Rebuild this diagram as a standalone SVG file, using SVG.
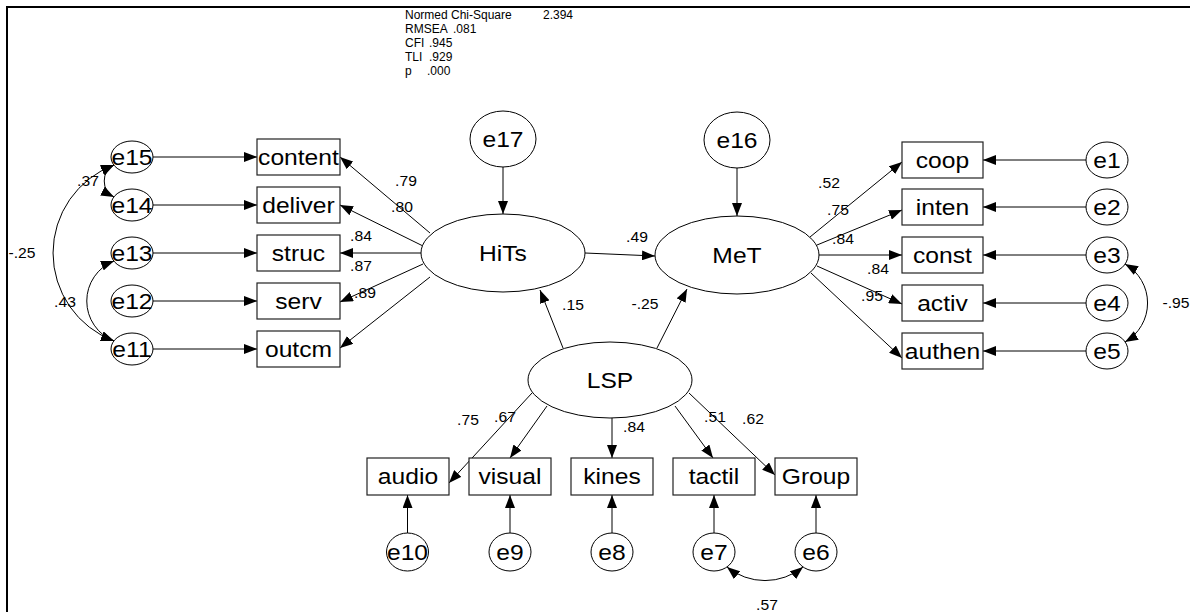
<svg xmlns="http://www.w3.org/2000/svg" width="1190" height="612" viewBox="0 0 1190 612">
<style>
  .box { fill: #fff; stroke: #222; stroke-width: 1.2; }
  .ell { fill: #fff; stroke: #000; stroke-width: 1; }
  .lbl { font-family: "Liberation Sans", Arial, sans-serif; font-size: 22px; text-anchor: middle; fill: #000; transform-box: fill-box; transform-origin: center; transform: scaleX(1.12); }
  .coef { font-family: "Liberation Sans", Arial, sans-serif; font-size: 14px; text-anchor: middle; fill: #000; transform-box: fill-box; transform-origin: center; transform: scaleX(1.12); }
  .stat { font-family: "Liberation Sans", Arial, sans-serif; font-size: 12px; fill: #000; }
  .c line, .c path { stroke: #000; stroke-width: 1; fill: none; }
  .c .one { marker-end: url(#ah); }
  .c .two { marker-end: url(#ah); marker-start: url(#ahs); }
</style>
<defs>
  <marker id="ah" markerUnits="userSpaceOnUse" markerWidth="13" markerHeight="10" viewBox="0 0 13 10" refX="13" refY="5" orient="auto">
    <path d="M0,0 L13,5 L0,10 z" fill="#000"/>
  </marker>
  <marker id="ahs" markerUnits="userSpaceOnUse" markerWidth="13" markerHeight="10" viewBox="0 0 13 10" refX="13" refY="5" orient="auto-start-reverse">
    <path d="M0,0 L13,5 L0,10 z" fill="#000"/>
  </marker>
</defs>
<path d="M7,612 L7,7 L1190,7" fill="none" stroke="#000" stroke-width="2"/>
<g id="fit-stats">
  <text class="stat" x="405" y="19">Normed Chi-Square<tspan x="543">2.394</tspan></text>
  <text class="stat" x="405" y="33">RMSEA<tspan x="453">.081</tspan></text>
  <text class="stat" x="405" y="47">CFI<tspan x="429">.945</tspan></text>
  <text class="stat" x="405" y="61">TLI<tspan x="429">.929</tspan></text>
  <text class="stat" x="405" y="75">p<tspan x="427">.000</tspan></text>
</g>
<g class="c" id="connectors">
  <line class="one" x1="153" y1="157" x2="257" y2="157"/>
  <line class="one" x1="153" y1="205" x2="257" y2="205"/>
  <line class="one" x1="153" y1="253" x2="257" y2="253"/>
  <line class="one" x1="153" y1="301" x2="257" y2="301"/>
  <line class="one" x1="153" y1="349" x2="257" y2="349"/>
  <line class="one" x1="430" y1="233" x2="340" y2="157"/>
  <line class="one" x1="423" y1="246" x2="340" y2="205"/>
  <line class="one" x1="421" y1="253" x2="340" y2="253"/>
  <line class="one" x1="423" y1="264" x2="340" y2="302"/>
  <line class="one" x1="430" y1="277" x2="340" y2="348"/>
  <line class="one" x1="503" y1="167" x2="503" y2="214"/>
  <line class="one" x1="737" y1="168" x2="737" y2="216"/>
  <line class="one" x1="585" y1="253" x2="655" y2="256"/>
  <line class="one" x1="563" y1="348" x2="540" y2="290"/>
  <line class="one" x1="657" y1="348" x2="687" y2="289"/>
  <line class="one" x1="810" y1="237" x2="902" y2="162"/>
  <line class="one" x1="817" y1="245" x2="902" y2="210"/>
  <line class="one" x1="819" y1="255" x2="902" y2="255"/>
  <line class="one" x1="817" y1="266" x2="902" y2="304"/>
  <line class="one" x1="811" y1="273" x2="902" y2="358"/>
  <line class="one" x1="1086" y1="160" x2="983" y2="160"/>
  <line class="one" x1="1086" y1="207" x2="983" y2="207"/>
  <line class="one" x1="1086" y1="255" x2="983" y2="255"/>
  <line class="one" x1="1086" y1="303" x2="983" y2="303"/>
  <line class="one" x1="1086" y1="351" x2="983" y2="351"/>
  <line class="one" x1="532" y1="393" x2="449" y2="483"/>
  <line class="one" x1="547" y1="406" x2="510" y2="458"/>
  <line class="one" x1="612" y1="418" x2="612" y2="458"/>
  <line class="one" x1="675" y1="406" x2="713" y2="458"/>
  <line class="one" x1="689" y1="393" x2="775" y2="475"/>
  <line class="one" x1="407.5" y1="533" x2="407.5" y2="495"/>
  <line class="one" x1="510" y1="533" x2="510" y2="495"/>
  <line class="one" x1="612" y1="533" x2="612" y2="495"/>
  <line class="one" x1="714" y1="533" x2="714" y2="495"/>
  <line class="one" x1="816" y1="533" x2="816" y2="495"/>
  <path class="two" d="M114,165 A18,18 0 0 0 114,197"/>
  <path class="two" d="M114,165 A94,94 0 0 0 114,341"/>
  <path class="two" d="M114,261 A43,43 0 0 0 114,341"/>
  <path class="two" d="M1125,264 A45,45 0 0 1 1125,342"/>
  <path class="two" d="M727,567 A60,60 0 0 0 803,567"/>
</g>
<g id="labels">
  <text class="coef" x="406" y="186">.79</text>
  <text class="coef" x="402" y="212">.80</text>
  <text class="coef" x="361" y="241">.84</text>
  <text class="coef" x="361" y="271">.87</text>
  <text class="coef" x="365" y="298">.89</text>
  <text class="coef" x="88" y="186">.37</text>
  <text class="coef" x="22" y="258">-.25</text>
  <text class="coef" x="65" y="307">.43</text>
  <text class="coef" x="637" y="242">.49</text>
  <text class="coef" x="573" y="310">.15</text>
  <text class="coef" x="645" y="309">-.25</text>
  <text class="coef" x="829" y="188">.52</text>
  <text class="coef" x="838" y="215">.75</text>
  <text class="coef" x="843" y="244">.84</text>
  <text class="coef" x="878" y="274">.84</text>
  <text class="coef" x="872" y="301">.95</text>
  <text class="coef" x="1176" y="308">-.95</text>
  <text class="coef" x="468" y="425">.75</text>
  <text class="coef" x="505" y="422">.67</text>
  <text class="coef" x="634" y="432">.84</text>
  <text class="coef" x="715" y="422">.51</text>
  <text class="coef" x="753" y="424">.62</text>
  <text class="coef" x="767" y="610">.57</text>
</g>
<g id="e15"><ellipse class="ell" cx="132" cy="157" rx="21" ry="16"/><text class="lbl" x="132" y="165">e15</text></g>
<g id="e14"><ellipse class="ell" cx="132" cy="205" rx="21" ry="16"/><text class="lbl" x="132" y="213">e14</text></g>
<g id="e13"><ellipse class="ell" cx="132" cy="253" rx="21" ry="16"/><text class="lbl" x="132" y="261">e13</text></g>
<g id="e12"><ellipse class="ell" cx="132" cy="301" rx="21" ry="16"/><text class="lbl" x="132" y="309">e12</text></g>
<g id="e11"><ellipse class="ell" cx="132" cy="349" rx="21" ry="16"/><text class="lbl" x="132" y="357">e11</text></g>
<g id="content"><rect class="box" x="257" y="139" width="83" height="36"/><text class="lbl" x="298.5" y="165">content</text></g>
<g id="deliver"><rect class="box" x="257" y="187" width="83" height="36"/><text class="lbl" x="298.5" y="213">deliver</text></g>
<g id="struc"><rect class="box" x="257" y="235" width="83" height="36"/><text class="lbl" x="298.5" y="261">struc</text></g>
<g id="serv"><rect class="box" x="257" y="283" width="83" height="36"/><text class="lbl" x="298.5" y="309">serv</text></g>
<g id="outcm"><rect class="box" x="257" y="331" width="83" height="36"/><text class="lbl" x="298.5" y="357">outcm</text></g>
<g id="e17"><ellipse class="ell" cx="503" cy="139" rx="33" ry="28"/><text class="lbl" x="503" y="147">e17</text></g>
<g id="e16"><ellipse class="ell" cx="737" cy="140" rx="33" ry="28"/><text class="lbl" x="737" y="148">e16</text></g>
<g id="HiTs"><ellipse class="ell" cx="503" cy="253" rx="82" ry="39"/><text class="lbl" x="503" y="261">HiTs</text></g>
<g id="MeT"><ellipse class="ell" cx="737" cy="255" rx="82" ry="39"/><text class="lbl" x="737" y="263">MeT</text></g>
<g id="LSP"><ellipse class="ell" cx="610" cy="380" rx="82" ry="38"/><text class="lbl" x="610" y="388">LSP</text></g>
<g id="coop"><rect class="box" x="902" y="142" width="81" height="36"/><text class="lbl" x="942.5" y="168">coop</text></g>
<g id="inten"><rect class="box" x="902" y="189" width="81" height="36"/><text class="lbl" x="942.5" y="215">inten</text></g>
<g id="const"><rect class="box" x="902" y="237" width="81" height="36"/><text class="lbl" x="942.5" y="263">const</text></g>
<g id="activ"><rect class="box" x="902" y="285" width="81" height="36"/><text class="lbl" x="942.5" y="311">activ</text></g>
<g id="authen"><rect class="box" x="902" y="333" width="81" height="36"/><text class="lbl" x="942.5" y="359">authen</text></g>
<g id="e1"><ellipse class="ell" cx="1107" cy="160" rx="21" ry="18"/><text class="lbl" x="1107" y="168">e1</text></g>
<g id="e2"><ellipse class="ell" cx="1107" cy="207" rx="21" ry="18"/><text class="lbl" x="1107" y="215">e2</text></g>
<g id="e3"><ellipse class="ell" cx="1107" cy="255" rx="21" ry="18"/><text class="lbl" x="1107" y="263">e3</text></g>
<g id="e4"><ellipse class="ell" cx="1107" cy="303" rx="21" ry="18"/><text class="lbl" x="1107" y="311">e4</text></g>
<g id="e5"><ellipse class="ell" cx="1107" cy="351" rx="21" ry="18"/><text class="lbl" x="1107" y="359">e5</text></g>
<g id="audio"><rect class="box" x="367" y="458" width="82" height="37"/><text class="lbl" x="408" y="484.5">audio</text></g>
<g id="visual"><rect class="box" x="469" y="458" width="82" height="37"/><text class="lbl" x="510" y="484.5">visual</text></g>
<g id="kines"><rect class="box" x="571" y="458" width="82" height="37"/><text class="lbl" x="612" y="484.5">kines</text></g>
<g id="tactil"><rect class="box" x="673" y="458" width="82" height="37"/><text class="lbl" x="714" y="484.5">tactil</text></g>
<g id="Group"><rect class="box" x="775" y="458" width="82" height="37"/><text class="lbl" x="816" y="484.5">Group</text></g>
<g id="e10"><ellipse class="ell" cx="407.5" cy="552" rx="21" ry="19"/><text class="lbl" x="407.5" y="560">e10</text></g>
<g id="e9"><ellipse class="ell" cx="510" cy="552" rx="21" ry="19"/><text class="lbl" x="510" y="560">e9</text></g>
<g id="e8"><ellipse class="ell" cx="612" cy="552" rx="21" ry="19"/><text class="lbl" x="612" y="560">e8</text></g>
<g id="e7"><ellipse class="ell" cx="714" cy="552" rx="21" ry="19"/><text class="lbl" x="714" y="560">e7</text></g>
<g id="e6"><ellipse class="ell" cx="816" cy="552" rx="21" ry="19"/><text class="lbl" x="816" y="560">e6</text></g>
</svg>
